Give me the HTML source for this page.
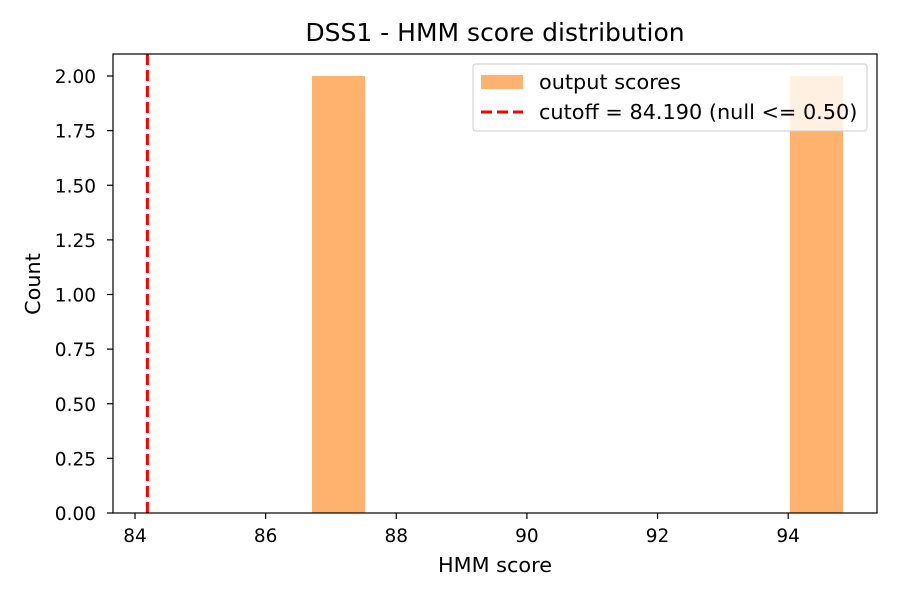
<!DOCTYPE html>
<html><head><meta charset="utf-8"><style>
body{margin:0;background:#fff}
svg text{font-family:"DejaVu Sans","Liberation Sans",sans-serif}
</style></head><body>
<svg id="chart" width="900" height="600" xmlns="http://www.w3.org/2000/svg">
<rect width="900" height="600" fill="#fff"/>
<text x="495" y="41" font-size="25" text-anchor="middle">DSS1 - HMM score distribution</text>
<g id="bars"></g>
<g id="cut"></g>
<rect x="113" y="54" width="764" height="459" fill="none" stroke="#000" stroke-width="1.2"/>
<g id="xt"></g><g id="yt"></g>
<text x="495" y="572" font-size="20.8" text-anchor="middle">HMM score</text>
<text x="40" y="284" font-size="20.8" text-anchor="middle" transform="rotate(-90 40 284)">Count</text>
<g>
<rect x="473" y="64" width="394" height="67" rx="3" fill="#fff" fill-opacity="0.8" stroke="#ccc"/>
<rect x="481" y="75" width="42" height="14" fill="#ffb26e"/>
<text x="539" y="89" font-size="20.8">output scores</text>
<line x1="481" y1="112" x2="523" y2="112" stroke="red" stroke-width="3" stroke-dasharray="11,5"/>
<text x="539" y="119" font-size="20.8">cutoff = 84.190 (null &lt;= 0.50)</text>
</g>
</svg>
<script>
const binEdges=[86.71,87.523,88.336,89.149,89.962,90.775,91.588,92.401,93.214,94.027,94.84];
const counts=[2,0,0,0,0,0,0,0,0,2];
const cutoff=[84.19];
const xTicks=[84,86,88,90,92,94];
const yTicks=[0,0.25,0.5,0.75,1,1.25,1.5,1.75,2];
const X0=83.663,X1=95.36,Y1=2.1007;
const sx=v=>113+(v-X0)/(X1-X0)*764;
const sy=v=>513-v/Y1*459;
const NS="http://www.w3.org/2000/svg";
function mk(t,a,p){const e=document.createElementNS(NS,t);for(const k in a)e.setAttribute(k,a[k]);p.appendChild(e);return e;}
const bars=document.getElementById('bars');
counts.forEach((c,i)=>{if(!c)return;
 const r=mk('rect',{x:sx(binEdges[i]),y:sy(c),width:sx(binEdges[i+1])-sx(binEdges[i]),height:sy(0)-sy(c),fill:'#ffb26e'},bars);
 
 });
const cut=document.getElementById('cut');
cutoff.forEach(v=>{const l=mk('line',{x1:sx(v),x2:sx(v),y1:54,y2:513,stroke:'red','stroke-width':3,'stroke-dasharray':'11,5'},cut);
 
 });
const xt=document.getElementById('xt');
xTicks.forEach(v=>{const x=sx(v);mk('line',{x1:x,x2:x,y1:513,y2:519,stroke:'#000','stroke-width':1.2},xt);
 const t=mk('text',{x:x,y:542,'font-size':18.5,'text-anchor':'middle'},xt);t.textContent=v;
 
 });
const yt=document.getElementById('yt');
yTicks.forEach(v=>{const y=sy(v);mk('line',{x1:107,x2:113,y1:y,y2:y,stroke:'#000','stroke-width':1.2},yt);
 const t=mk('text',{x:96,y:y+7,'font-size':18.5,'text-anchor':'end'},yt);t.textContent=v.toFixed(2);
 
 });
</script>
</body></html>
